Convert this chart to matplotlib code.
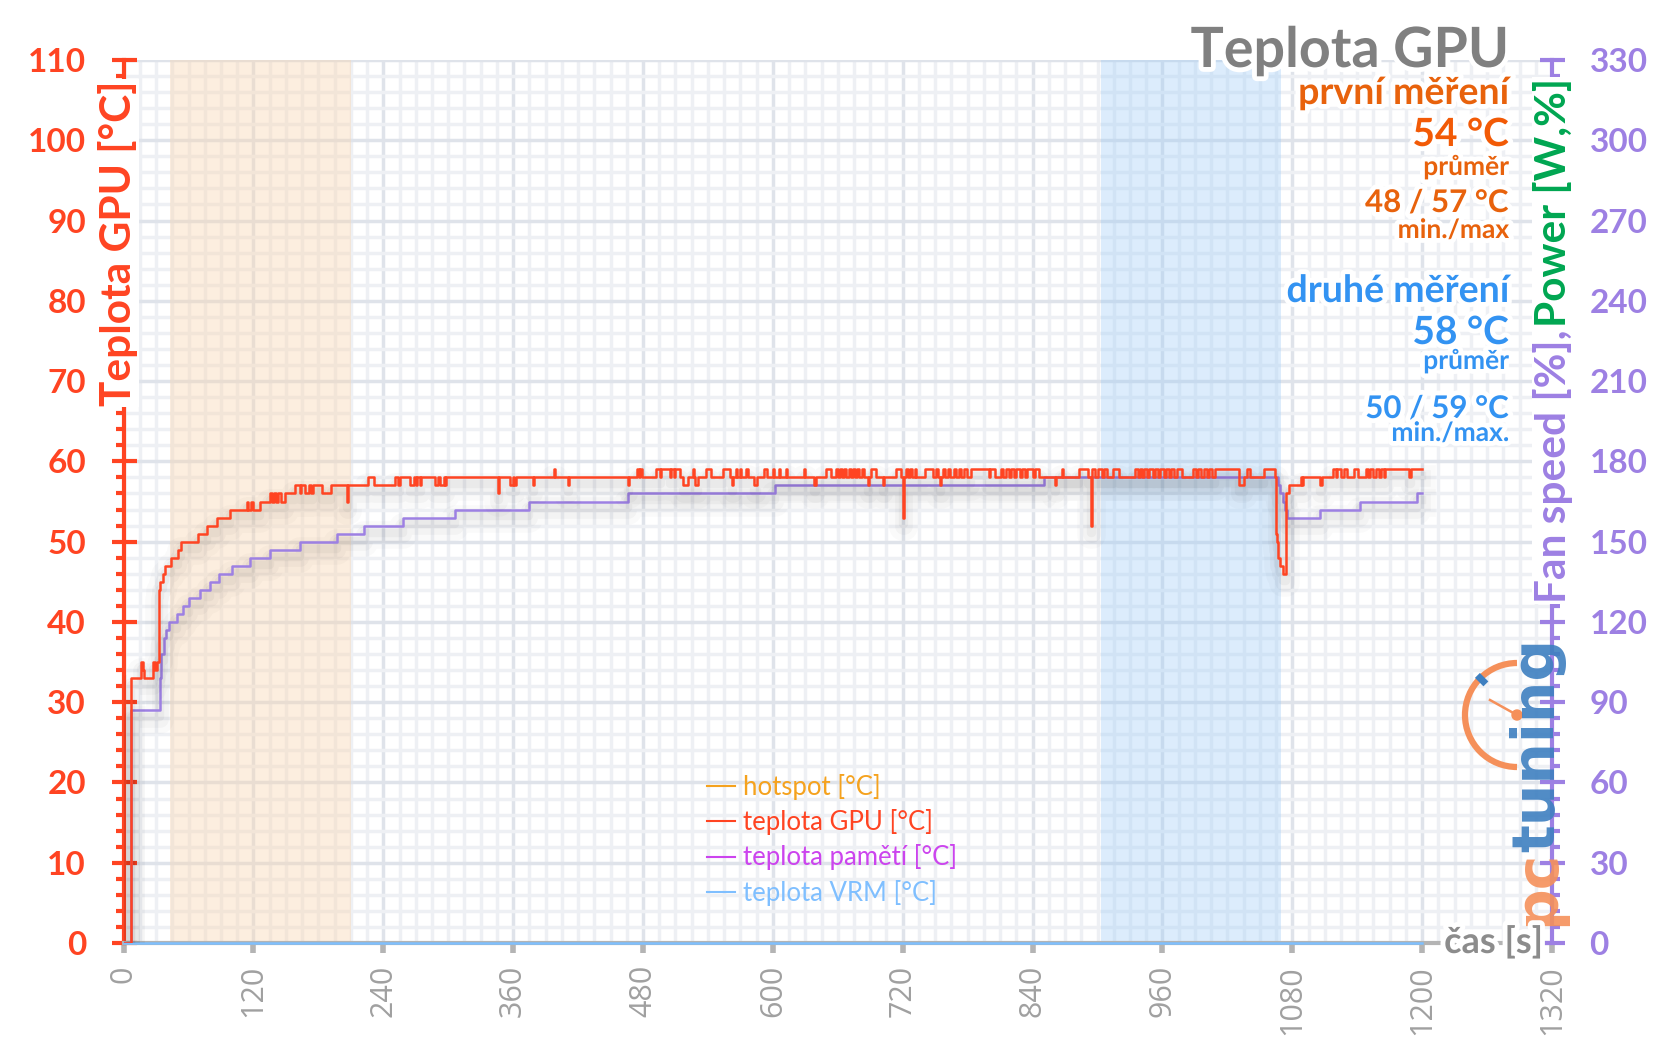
import numpy as np
import matplotlib
matplotlib.use('Agg')
import matplotlib.pyplot as plt
import matplotlib.patheffects as pe
from matplotlib.ticker import MultipleLocator
from matplotlib.lines import Line2D
from matplotlib.patches import Arc, Circle

plt.rcParams['font.family'] = ['Lato', 'DejaVu Sans']

# GPU temperature (time [s], value [°C]), change points only
gpu_points = [
    (0, 0), (7, 33), (16, 35), (18, 34), (19, 33), (27, 35), (29, 34), (31, 35), (33, 44), (34, 45),
    (36, 46), (38, 47), (44, 48), (50, 49), (53, 50), (69, 51), (77, 52), (86, 53), (98, 54),
    (114, 55), (115, 54), (118, 55), (120, 54), (126, 55), (135, 56), (137, 55), (139, 56), (141, 55),
    (143, 56), (145, 55), (149, 56), (158, 57), (163, 56), (164, 57), (168, 56), (171, 57), (173, 56),
    (175, 57), (183, 56), (192, 57), (206, 55), (207, 57), (226, 58), (231, 57),
    (251, 58), (254, 57), (255, 58), (265, 57), (268, 58), (270, 57), (271, 58), (274, 57), (275, 58),
    (288, 57), (291, 58), (292, 57), (296, 58), (297, 57), (298, 58),
    (346, 56), (347, 58), (357, 57), (360, 58), (361, 57), (363, 58), (378, 57), (379, 58), (398, 59),
    (399, 58), (411, 57), (412, 58), (466, 57), (467, 58), (474, 59), (476, 58), (477, 59), (479, 58),
    (492, 59), (496, 58), (497, 59), (505, 58), (506, 59), (509, 58), (510, 59), (514, 58), (517, 57),
    (522, 58), (526, 59), (527, 58), (528, 57), (531, 58), (538, 59), (543, 58), (554, 59), (560, 58),
    (562, 57), (563, 58), (566, 59), (567, 58), (570, 59), (571, 58), (575, 59), (577, 58), (583, 57),
    (585, 58), (592, 59), (595, 58), (600, 59), (601, 58), (606, 59), (607, 58), (612, 59), (613, 58),
    (629, 59), (630, 58), (638, 57), (640, 58), (649, 59), (654, 58),
    (658, 59), (660, 58), (662, 59), (664, 58), (666, 59), (668, 58), (670, 59), (672, 58), (674, 59),
    (676, 58), (678, 59), (680, 58), (682, 59), (684, 58), (688, 57), (689, 58), (691, 59), (695, 58),
    (702, 57), (703, 58), (714, 59), (718, 58), (720, 53), (721, 58), (723, 59), (725, 58), (727, 59),
    (729, 58), (731, 59), (732, 58),
    (741, 59), (748, 58), (751, 59), (753, 58), (754, 57), (755, 58), (757, 59), (759, 58), (762, 59),
    (764, 58), (767, 59), (769, 58), (772, 59), (774, 58), (777, 59), (779, 58), (783, 59), (800, 58),
    (801, 59), (805, 58),
    (811, 59), (813, 58), (815, 59), (818, 58), (820, 59), (823, 58), (825, 59), (828, 58), (830, 59),
    (833, 58), (835, 59), (840, 58), (842, 59), (846, 58), (861, 57), (862, 58), (867, 59), (868, 58),
    (883, 59), (891, 58), (894, 52), (895, 59), (898, 58), (900, 59), (904, 58), (906, 59), (909, 58),
    (914, 59), (920, 58),
    (935, 59), (937, 58), (939, 59), (941, 58), (943, 59), (946, 58), (948, 59), (951, 58), (953, 59),
    (956, 58), (958, 59), (961, 58), (963, 59), (966, 58), (968, 59), (971, 58), (973, 59), (978, 58),
    (988, 59), (991, 58), (993, 59), (996, 58), (998, 59), (1001, 58), (1003, 59), (1006, 58), (1009, 59),
    (1031, 57), (1035, 58), (1038, 59), (1041, 58), (1054, 59), (1064, 58), (1065, 51), (1066, 50),
    (1067, 48), (1069, 47), (1071, 46), (1074, 56), (1077, 57), (1088, 58), (1089, 57), (1090, 58),
    (1106, 57), (1107, 58), (1118, 59), (1120, 58), (1121, 59), (1125, 58), (1128, 59), (1131, 58),
    (1137, 59), (1141, 58), (1148, 59), (1150, 58), (1152, 59), (1155, 58), (1157, 59), (1160, 58),
    (1162, 59), (1165, 58), (1166, 59), (1188, 58), (1190, 59), (1200, 59),
]

# memory temperature
mem_points = [
    (0, 0), (7, 29), (34, 33), (35, 36), (37, 38), (39, 39), (42, 40), (49, 41), (55, 42), (60, 43),
    (71, 44), (80, 45), (88, 46), (100, 47), (117, 48), (135, 49), (163, 50), (197, 51), (222, 52),
    (258, 53), (306, 54), (375, 55), (466, 56), (602, 57), (851, 58), (1067, 57), (1069, 56),
    (1071, 55), (1073, 54), (1075, 53), (1106, 54), (1143, 55), (1195, 56), (1200, 56),
]

# hotspot and VRM stay at zero
hot_time = [0, 1200]
hot_temp = [0, 0]
vrm_time = [0, 1200]
vrm_temp = [0, 0]

first_run = (43, 210)
second_run = (903, 1070)

x_ticks = list(range(0, 1321, 120))
left_ticks = list(range(0, 111, 10))
right_ticks = list(range(0, 331, 30))

legend_labels = ['hotspot [°C]', 'teplota GPU [°C]', 'teplota pamětí [°C]', 'teplota VRM [°C]']
legend_colors = ['#f5a21e', '#ff4422', '#cc44ee', '#7fbfff']

RED = '#ff4422'
LAV = '#9d80e3'
GRAY_AX = '#b4b4b4'

W, H = 1656, 1043
fig = plt.figure(figsize=(W / 100, H / 100), dpi=100)
fig.patch.set_facecolor('white')


def fx(px):
    return px / W


def fy(py):
    return 1 - py / H


halo = [pe.withStroke(linewidth=7, foreground='white')]
white_box = dict(facecolor='white', edgecolor='none', pad=1)

ax = fig.add_axes([fx(123.6), fy(943), (1552 - 123.6) / W, (943 - 60) / H])
ax.set_xlim(0, 1320)
ax.set_ylim(0, 110)
ax.set_axisbelow(True)

# grid
ax.xaxis.set_minor_locator(MultipleLocator(15))
ax.yaxis.set_minor_locator(MultipleLocator(2))
ax.grid(which='minor', color='#eef0f4', lw=2.5)
ax.grid(which='major', color='#dfe3ea', lw=2.5)

# shaded measuring windows
ax.axvspan(*first_run, color='#f9d5b0', alpha=0.4, lw=0)
ax.axvspan(*second_run, color='#9ccbf7', alpha=0.35, lw=0)

# soft drop shadow under the curves
shadow = [
    pe.SimpleLineShadow(offset=(0, -7), shadow_color='black', alpha=0.02, linewidth=20),
    pe.SimpleLineShadow(offset=(0, -6), shadow_color='black', alpha=0.028, linewidth=12),
    pe.SimpleLineShadow(offset=(0, -5), shadow_color='black', alpha=0.035, linewidth=6),
    pe.Normal(),
]

gpu_t, gpu_v = zip(*gpu_points)
mem_t, mem_v = zip(*mem_points)
ax.plot(hot_time, hot_temp, color='#f5a21e', lw=2, drawstyle='steps-post', zorder=3, clip_on=False)
ax.plot(vrm_time, vrm_temp, color='#7fbfff', lw=2, drawstyle='steps-post', zorder=3.1, clip_on=False)
ax.plot(mem_t, mem_v, color=LAV, lw=1.8, drawstyle='steps-post', zorder=4, path_effects=shadow)
ax.plot(gpu_t, gpu_v, color=RED, lw=1.8, drawstyle='steps-post', zorder=5, path_effects=shadow)

# spines and ticks
for s in ['top', 'right']:
    ax.spines[s].set_visible(False)
ax.spines['left'].set_color(RED)
ax.spines['left'].set_linewidth(3)
ax.spines['bottom'].set_color(GRAY_AX)
ax.spines['bottom'].set_linewidth(3)

ax.set_yticks(left_ticks)
ax.set_yticklabels([str(v) for v in left_ticks], fontweight='bold')
ax.tick_params(axis='y', which='major', direction='inout', length=18, width=3, color=RED,
               labelcolor=RED, labelsize=24, pad=18)
ax.tick_params(axis='y', which='minor', direction='out', length=6, width=3, color=RED)

ax.set_xticks(x_ticks)
ax.set_xticklabels([str(v) for v in x_ticks], rotation=90, fontfamily='Open Sans')
ax.tick_params(axis='x', which='major', direction='out', length=7, width=4, color=GRAY_AX,
               labelcolor='#a0a0a0', labelsize=22, pad=9)
ax.tick_params(axis='x', which='minor', length=0)

ax2 = ax.twinx()
ax2.set_ylim(0, 330)
for s in ['top', 'left', 'bottom']:
    ax2.spines[s].set_visible(False)
ax2.spines['right'].set_color(LAV)
ax2.spines['right'].set_linewidth(3)
ax2.set_yticks(right_ticks)
ax2.set_yticklabels([str(v) for v in right_ticks], fontweight='bold')
ax2.yaxis.set_minor_locator(MultipleLocator(6))
ax2.tick_params(axis='y', which='major', direction='inout', length=18, width=3, color=LAV,
                labelcolor=LAV, labelsize=24, pad=18)
ax2.tick_params(axis='y', which='minor', direction='out', length=6, width=3, color=LAV)

# legend
handles = [Line2D([0], [0], color=c, lw=1.5) for c in legend_colors]
leg = ax.legend(handles, legend_labels, loc='upper left', bbox_to_anchor=(fx(707), fy(774)),
                bbox_transform=fig.transFigure, frameon=False, fontsize=18.5, borderpad=0,
                borderaxespad=0, handlelength=1.1, handletextpad=0.3, labelspacing=0.36)
leg.set_zorder(20)
for txt, c in zip(leg.get_texts(), legend_colors):
    txt.set_color(c)

# axis titles
fig.text(fx(118), fy(80), 'Teplota GPU [°C]', rotation=90, ha='center', va='top', fontsize=30.5,
         fontweight='bold', color=RED, bbox=white_box, zorder=10)

renderer = fig.canvas.get_renderer()
t1 = fig.text(fx(1553), fy(78), 'Power [W,%]', rotation=90, ha='center', va='top', fontsize=30.5,
              fontweight='bold', color='#00a651', bbox=white_box, zorder=10)
bb = t1.get_window_extent(renderer)
fig.text(fx(1553), (bb.y0 - 2) / H, 'Fan speed [%],', rotation=90, ha='center', va='top', fontsize=30.5,
         fontweight='bold', color=LAV, bbox=white_box, zorder=10)

fig.text(fx(1543), fy(953), 'čas [s]', ha='right', va='baseline', fontsize=26, fontweight='bold',
         color='#8c8c8c', path_effects=halo, zorder=10)

# title block
fig.text(fx(1509), fy(67), 'Teplota GPU', ha='right', va='baseline', fontsize=40, fontweight='bold',
         color='#808080', path_effects=halo, zorder=10)
ORANGE = '#e8620c'
BLUE = '#3393f2'
info = [
    ('první měření', 104, 27, ORANGE),
    ('54 °C', 146, 28, '#f25a06'),
    ('průměr', 175, 19, ORANGE),
    ('48 / 57 °C', 212, 22.5, ORANGE),
    ('min./max', 238, 19, ORANGE),
    ('druhé měření', 302, 27, BLUE),
    ('58 °C', 344, 28, BLUE),
    ('průměr', 369, 19, BLUE),
    ('50 / 59 °C', 418, 22.5, BLUE),
    ('min./max.', 441, 19, BLUE),
]
for s, y, size, c in info:
    fig.text(fx(1509), fy(y), s, ha='right', va='baseline', fontsize=size, fontweight='bold',
             color=c, path_effects=halo, zorder=10)

# pctuning logo
lax = fig.add_axes([0, 0, 1, 1], zorder=6)
lax.set_xlim(0, W)
lax.set_ylim(H, 0)
lax.axis('off')
LOGO_OR = '#f5905a'
LOGO_BL = '#3d7fc0'
lax.add_patch(Arc((1517, 715), 104, 104, theta1=90, theta2=270, lw=4.5, color=LOGO_OR))
lax.plot([1517, 1490], [715, 700], color=LOGO_OR, lw=1.8)
lax.add_patch(Circle((1517, 715), 5, color=LOGO_OR))
r = np.array([44, 56])
lax.plot(1517 - r * 0.707, 715 - r * 0.707, color=LOGO_BL, lw=5, solid_capstyle='butt')
p = lax.text(1538, 926, 'pc', rotation=90, ha='center', va='bottom', fontsize=42, fontweight='bold',
             family='DejaVu Sans', color=LOGO_OR, alpha=0.9)
pb = p.get_window_extent(renderer)
lax.text(1538, H - pb.y1 + 2, 'tuning', rotation=90, ha='center', va='bottom', fontsize=42,
         fontweight='bold', family='DejaVu Sans', color=LOGO_BL, alpha=0.9)

fig.savefig('out.png', dpi=100)
